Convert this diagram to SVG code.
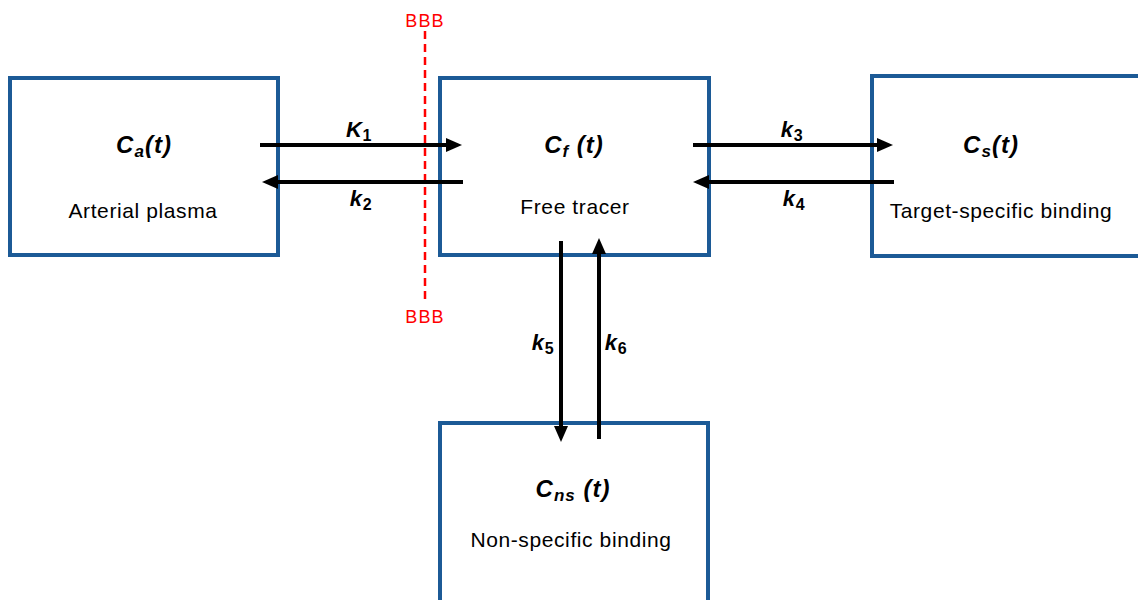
<svg xmlns="http://www.w3.org/2000/svg" width="1138" height="600" viewBox="0 0 1138 600">
<style>
.box{fill:#ffffff;stroke:#1c5a96;stroke-width:4}
.title{font-family:"Liberation Sans",Arial,sans-serif;font-size:24px;font-weight:bold;font-style:italic;fill:#000;text-anchor:middle;letter-spacing:1px}
.tidx{font-size:17px}
.sub{font-family:"Liberation Sans",Arial,sans-serif;font-size:21px;fill:#000;text-anchor:middle;letter-spacing:0.6px}
.rate{font-family:"Liberation Sans",Arial,sans-serif;font-size:22px;font-weight:bold;font-style:italic;fill:#000;text-anchor:middle;letter-spacing:0.6px}
.idx{font-size:16px;font-style:normal}
.bbb{font-family:"Liberation Sans",Arial,sans-serif;font-size:18px;fill:#ff0000;text-anchor:middle;letter-spacing:1.2px}
.arr{stroke:#000;stroke-width:4;fill:none;marker-end:url(#ah)}
</style>
<defs>
<marker id="ah" markerUnits="userSpaceOnUse" markerWidth="16" markerHeight="14" refX="2" refY="7" orient="auto">
<path d="M0,0 L16,7 L0,14 z" fill="#000"/>
</marker>
</defs>
<rect width="1138" height="600" fill="#ffffff"/>
<g id="node-ca">
<rect class="box" x="10" y="78" width="268" height="177"/>
<text class="title" x="144" y="153">C<tspan class="tidx" dy="4">a</tspan><tspan dy="-4">(t)</tspan></text>
<text class="sub" x="143" y="218">Arterial plasma</text>
</g>
<g id="node-cf">
<rect class="box" x="440" y="78" width="269" height="177"/>
<text class="title" x="574" y="153">C<tspan class="tidx" dy="4">f</tspan><tspan dy="-4"> (t)</tspan></text>
<text class="sub" x="575" y="214">Free tracer</text>
</g>
<g id="node-cs">
<rect class="box" x="872" y="76" width="300" height="180"/>
<text class="title" x="991" y="153">C<tspan class="tidx" dy="4">s</tspan><tspan dy="-4">(t)</tspan></text>
<text class="sub" x="1001" y="218">Target-specific binding</text>
</g>
<g id="node-cns">
<rect class="box" x="440" y="423" width="268" height="200"/>
<text class="title" x="573" y="497">C<tspan class="tidx" dy="4">ns</tspan><tspan dy="-4"> (t)</tspan></text>
<text class="sub" x="571" y="547">Non-specific binding</text>
</g>
<g id="bbb">
<line x1="425" y1="31" x2="425" y2="300" stroke="#ff0000" stroke-width="2.5" stroke-dasharray="8,5"/>
<text class="bbb" x="425" y="27">BBB</text>
<text class="bbb" x="425" y="323">BBB</text>
</g>
<g id="connectors">
<line class="arr" x1="260" y1="145" x2="448" y2="145"/>
<line class="arr" x1="463" y1="182" x2="276" y2="182"/>
<line class="arr" x1="693" y1="145" x2="879" y2="145"/>
<line class="arr" x1="894" y1="182" x2="707" y2="182"/>
<line class="arr" x1="561" y1="241" x2="561" y2="428"/>
<line class="arr" x1="599" y1="439" x2="599" y2="252"/>
<text class="rate" x="359" y="137">K<tspan class="idx" dy="4">1</tspan></text>
<text class="rate" x="361" y="206">k<tspan class="idx" dy="4">2</tspan></text>
<text class="rate" x="792" y="137">k<tspan class="idx" dy="4">3</tspan></text>
<text class="rate" x="794" y="206">k<tspan class="idx" dy="4">4</tspan></text>
<text class="rate" x="543" y="350">k<tspan class="idx" dy="4">5</tspan></text>
<text class="rate" x="616" y="350">k<tspan class="idx" dy="4">6</tspan></text>
</g>
</svg>
